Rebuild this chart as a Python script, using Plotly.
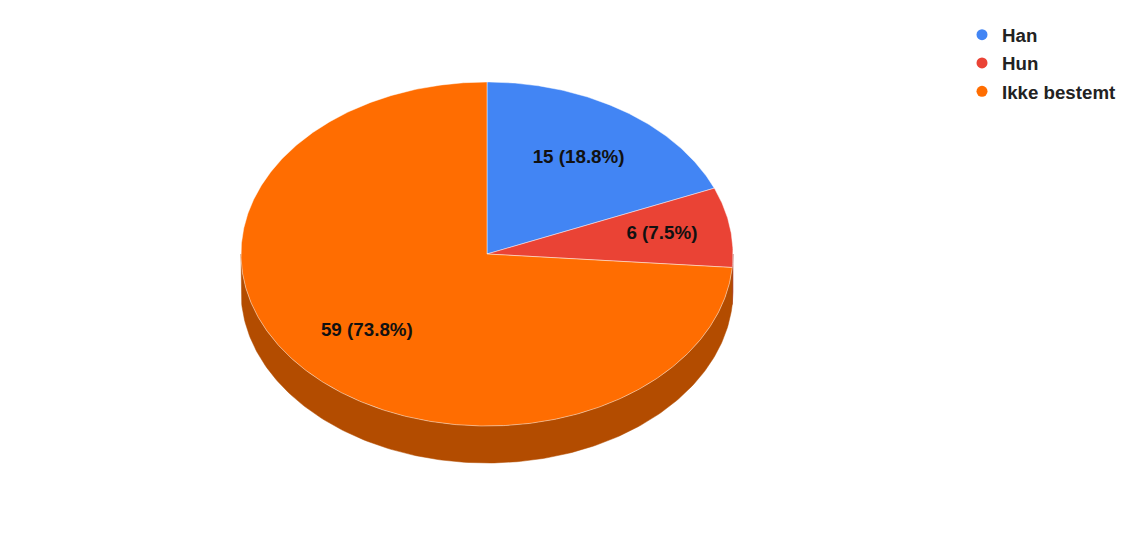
import numpy as np
import plotly.graph_objects as go

labels = ["Han", "Hun", "Ikke bestemt"]
values = [15, 6, 59]
colors = ["#4285F4", "#EA4335", "#FF6D01"]
side_colors = ["#2E5DAA", "#A32F25", "#B34C00"]

# page body has an 8px margin; work in figure coordinates
OFF = 8
W, H = 1139 - OFF, 544 - OFF
cx, cy, rx, ry, depth = 487 - OFF, 254 - OFF, 246, 172, 37
label_radius = [0.67, 0.72, 0.665]  # label placement style per slice

total = sum(values)
fig = go.Figure()

def pt(theta_deg, dy=0.0):
    t = np.radians(theta_deg)
    return cx + rx * np.sin(t), cy - ry * np.cos(t) + dy

starts, ends = [], []
acc = 0
for v in values:
    starts.append(acc / total * 360)
    acc += v
    ends.append(acc / total * 360)

# sides (front half only: 90..270 degrees)
for s, e, sc in zip(starts, ends, side_colors):
    a, b = max(s, 90), min(e, 270)
    if b <= a:
        continue
    th = np.linspace(a, b, 200)
    xt, yt = pt(th)
    xb, yb = pt(th[::-1], depth)
    xs = np.concatenate([xt, xb, xt[:1]])
    ys = np.concatenate([yt, yb, yt[:1]])
    fig.add_trace(go.Scatter(x=xs, y=ys, fill="toself", fillcolor=sc,
                             line=dict(color=sc, width=0.5), mode="lines",
                             hoverinfo="skip", showlegend=False))

# top slices
for s, e, c in zip(starts, ends, colors):
    th = np.linspace(s, e, max(int((e - s) * 2), 10))
    x, y = pt(th)
    xs = np.concatenate([[cx], x, [cx]])
    ys = np.concatenate([[cy], y, [cy]])
    fig.add_trace(go.Scatter(x=xs, y=ys, fill="toself", fillcolor=c,
                             line=dict(color="rgba(255,255,255,0.45)", width=1),
                             mode="lines", hoverinfo="skip", showlegend=False))

# labels
lx, ly, lt = [], [], []
for s, e, v, r in zip(starts, ends, values, label_radius):
    m = np.radians((s + e) / 2)
    lx.append(cx + r * rx * np.sin(m))
    ly.append(cy - r * ry * np.cos(m))
    lt.append(f"<b>{v} ({v / total * 100:.1f}%)</b>")
fig.add_trace(go.Scatter(x=lx, y=ly, text=lt, mode="text",
                         textfont=dict(family="Liberation Sans, Arial", size=18.8, color="#111111"),
                         hoverinfo="skip", showlegend=False))

# legend entries
for lab, c in zip(labels, colors):
    fig.add_trace(go.Scatter(x=[None], y=[None], mode="markers", name=f"<b>{lab}</b>",
                             legendgroup=lab,
                             marker=dict(color=c, size=11, symbol="circle")))

fig.update_layout(
    width=W, height=H,
    margin=dict(l=0, r=0, t=0, b=0),
    paper_bgcolor="white", plot_bgcolor="white",
    xaxis=dict(range=[0, W], visible=False, fixedrange=True),
    yaxis=dict(range=[H, 0], visible=False, fixedrange=True),
    legend=dict(x=(962 - OFF) / W, y=1 - 8 / H, xanchor="left", yanchor="top",
                font=dict(family="Liberation Sans, Arial", size=18.7, color="#222222"),
                itemsizing="trace", tracegroupgap=1, bgcolor="rgba(0,0,0,0)"),
    showlegend=True,
)

fig.write_html("out.html")
